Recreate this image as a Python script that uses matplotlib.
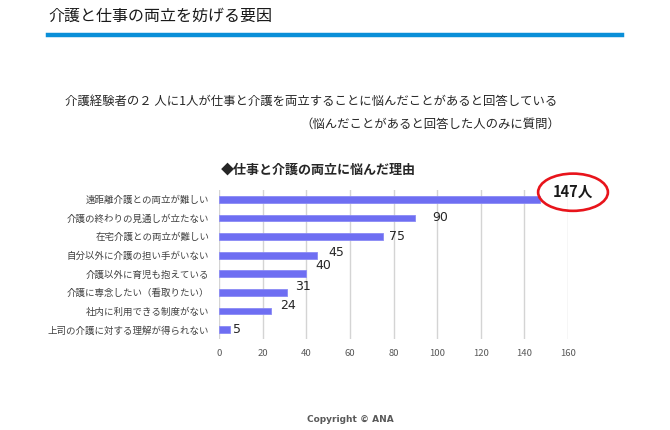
import matplotlib
matplotlib.use("Agg")
import matplotlib.pyplot as plt
from matplotlib.patches import Ellipse

plt.rcParams["font.family"] = ["Noto Sans CJK JP", "DejaVu Sans"]

# data
reasons = [
    "遠距離介護との両立が難しい",
    "介護の終わりの見通しが立たない",
    "在宅介護との両立が難しい",
    "自分以外に介護の担い手がいない",
    "介護以外に育児も抱えている",
    "介護に専念したい（看取りたい）",
    "社内に利用できる制度がない",
    "上司の介護に対する理解が得られない",
]
counts = [147, 90, 75, 45, 40, 31, 24, 5]
xticks = [0, 20, 40, 60, 80, 100, 120, 140, 160]

page_title = "介護と仕事の両立を妨げる要因"
subtitle1 = "介護経験者の２ 人に1人が仕事と介護を両立することに悩んだことがあると回答している"
subtitle2 = "（悩んだことがあると回答した人のみに質問）"
chart_title = "◆仕事と介護の両立に悩んだ理由"
highlight = "147人"

# value label offsets (data units: dx, dy rows), Excel-like placement
label_offsets = [None, (11.3, 0.0), (6.6, 0.0), (9.0, -0.16), (7.7, -0.43),
                 (7.5, -0.32), (7.6, -0.32), (3.3, 0.0)]

fig = plt.figure(figsize=(6.7, 4.3), dpi=100)
W, H = 670, 430

# header
fig.text(48 / W, 1 - 16 / H, page_title, fontsize=11.5, color="#1a1a1a",
         va="center", ha="left")
fig.add_artist(plt.Line2D([48 / W, 622 / W], [1 - 35 / H, 1 - 35 / H],
                          color="#0a8fd8", lw=3.2, transform=fig.transFigure))
fig.text(65 / W, 1 - 101 / H, subtitle1, fontsize=8.9, color="#262626",
         va="center", ha="left")
fig.text(300 / W, 1 - 124 / H, subtitle2, fontsize=8.9, color="#262626",
         va="center", ha="left")
fig.text(221 / W, 1 - 170 / H, chart_title, fontsize=9.4, fontweight="bold",
         color="#262626", va="center", ha="left")

ax = fig.add_axes([219 / W, 1 - 339 / H, (568 - 219) / W, (339 - 190) / H])
y = list(range(len(reasons)))
ax.barh(y, counts, height=0.36, color="#6e6ef2", edgecolor="#8a8af5",
        linewidth=0.6, zorder=3)
ax.set_xlim(0, 160)
ax.set_ylim(len(reasons) - 0.5, -0.5)
ax.set_xticks(xticks)
ax.set_yticks(y)
ax.set_yticklabels(reasons)
ax.grid(axis="x", color="#d4d4d4", lw=1.0, zorder=0)
ax.tick_params(axis="x", length=0, pad=7, labelsize=6.8, labelcolor="#595959")
ax.tick_params(axis="y", length=0, pad=7, labelsize=6.8, labelcolor="#404040")
for s in ax.spines.values():
    s.set_visible(False)

for i, (v, off) in enumerate(zip(counts, label_offsets)):
    if off is None:
        continue
    ax.text(v + off[0], i + off[1], str(v), fontsize=9, color="#262626",
            ha="center", va="center", family=["DejaVu Sans"])

# highlighted top value
ax.add_patch(Ellipse((162.3, -0.38), 32, 2.0, fill=False, edgecolor="#e8141b",
                     lw=1.9, clip_on=False, zorder=5))
ax.text(162.3, -0.38, highlight, fontsize=10.5, fontweight="bold",
        color="#1a1a1a", ha="center", va="center", zorder=6)

fig.text(350 / W, 1 - 420 / H, "Copyright © ANA", fontsize=6.5,
         fontweight="bold", color="#595959", ha="center", va="center",
         family=["DejaVu Sans"])

fig.savefig("out.png", dpi=100)
